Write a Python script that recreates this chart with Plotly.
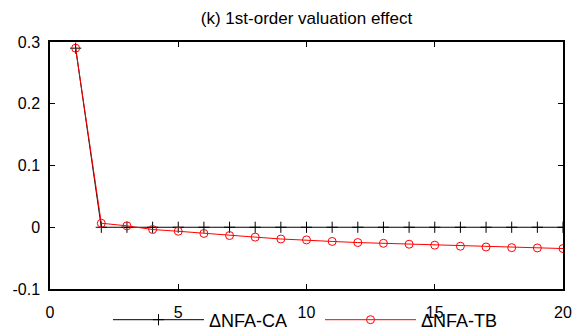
import plotly.graph_objects as go

# Data
periods = list(range(1, 21))
nfa_ca = [0.29] + [0.0] * 19
nfa_tb = [0.29, 0.0065, 0.0023, -0.0037, -0.0065, -0.010, -0.0134, -0.016, -0.019, -0.0205,
          -0.023, -0.0248, -0.026, -0.0275, -0.029, -0.0307, -0.032, -0.033, -0.0335, -0.0345]
x_ticks = [0, 5, 10, 15, 20]
y_ticks = [-0.1, 0, 0.1, 0.2, 0.3]
y_tick_labels = ["-0.1", "0", "0.1", "0.2", "0.3"]
title = "(k) 1st-order valuation effect"

FONT = "Liberation Sans, Arial, sans-serif"

fig = go.Figure()
fig.add_trace(go.Scatter(
    x=periods, y=nfa_ca, name="ΔNFA-CA", mode="lines+markers",
    line=dict(color="black", width=1),
    marker=dict(symbol="cross-thin-open", size=8, line=dict(color="black", width=1)),
))
fig.add_trace(go.Scatter(
    x=periods, y=nfa_tb, name="ΔNFA-TB", mode="lines+markers",
    line=dict(color="#ff0000", width=1),
    marker=dict(symbol="circle-open", size=8, color="#ff0000", line=dict(color="#ff0000", width=1)),
))

axis_common = dict(
    showline=True, linecolor="black", linewidth=1.5, mirror="allticks",
    ticks="inside", ticklen=5, tickwidth=1, tickcolor="black",
    showgrid=False, zeroline=False,
    tickfont=dict(family=FONT, size=16, color="black"),
)

fig.update_xaxes(range=[0, 20], tickvals=x_ticks, ticklabelstandoff=8, **axis_common)
fig.update_yaxes(range=[-0.1, 0.3], tickvals=y_ticks, ticktext=y_tick_labels,
                 ticklabelstandoff=5, **axis_common)

fig.update_layout(
    width=577, height=333,
    margin=dict(l=50, r=14, t=42, b=44, autoexpand=False),
    paper_bgcolor="white", plot_bgcolor="white",
    font=dict(family=FONT, size=16, color="black"),
    showlegend=True,
    title=dict(text=title, x=(50 + 563) / 2 / 577, xanchor="center",
               y=1 - 18 / 333, yanchor="middle",
               font=dict(family=FONT, size=17, color="black")),
    legend=dict(orientation="h", x=108 / 577, xanchor="left",
                y=1 - 320 / 333, yanchor="middle",
                xref="container", yref="container", bgcolor="rgba(0,0,0,0)",
                itemwidth=91, entrywidth=106, entrywidthmode="pixels",
                font=dict(family=FONT, size=18, color="black")),
)

fig.write_html("out.html")
